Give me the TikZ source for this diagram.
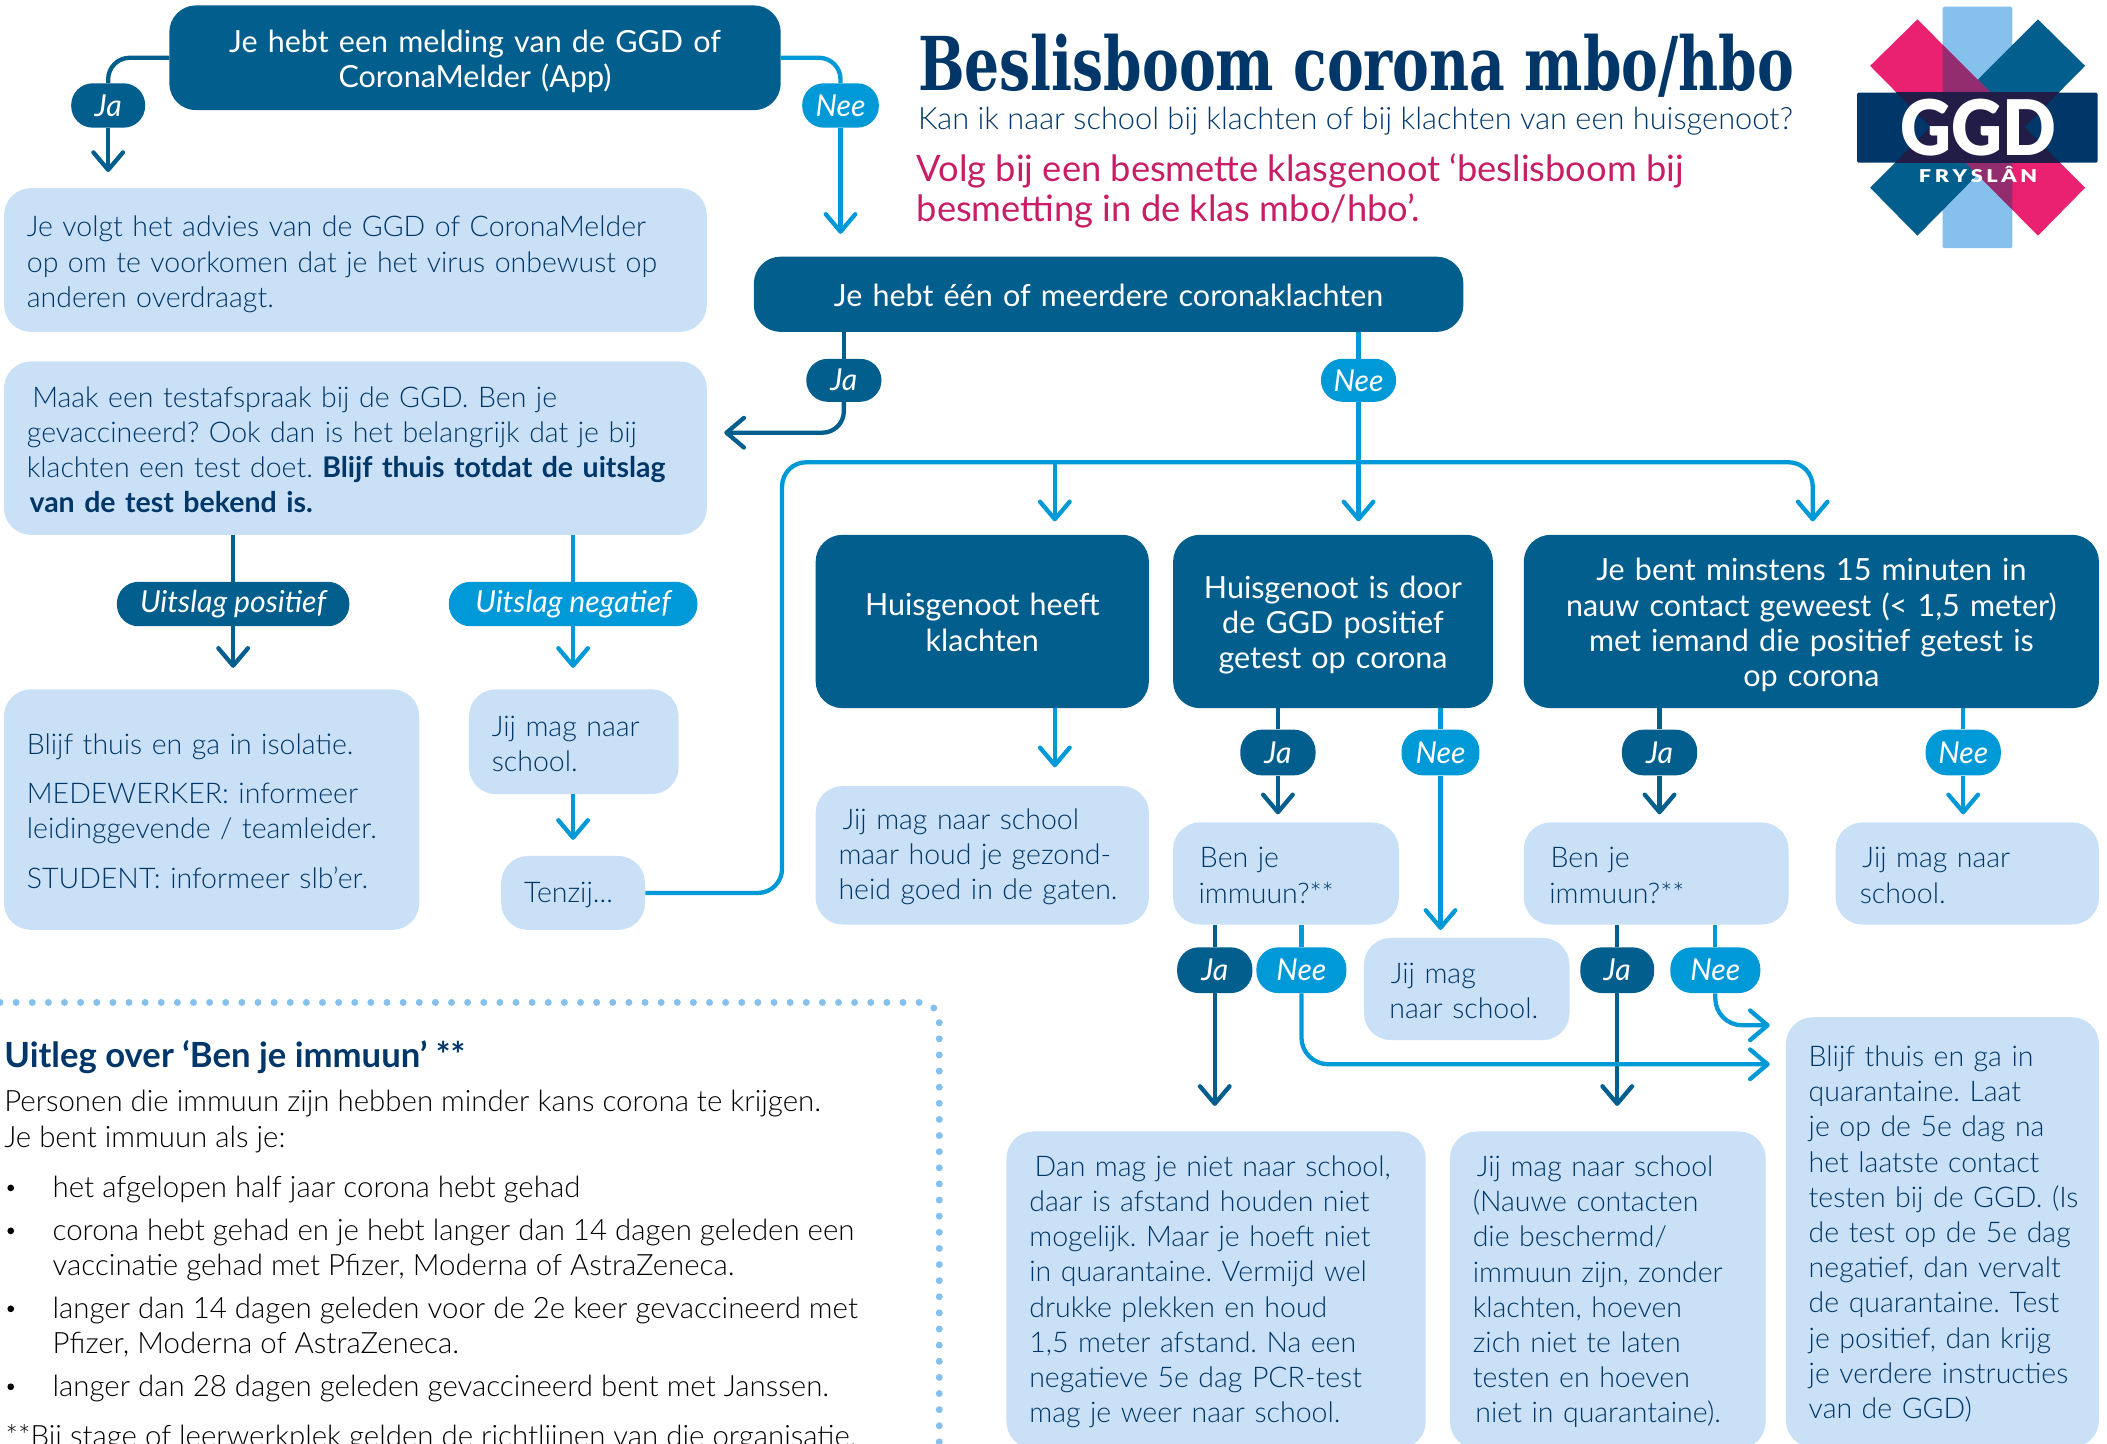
\documentclass[tikz,border=0pt]{standalone}
\usepackage{fontspec}
\usetikzlibrary{arrows.meta,calc}
\setmainfont{Lato Light}[BoldFont={Lato Bold},ItalicFont={Lato Italic}]
\newfontfamily\reg{Lato}
\newfontfamily\slab{DejaVu Serif Bold}
\newfontfamily\logof{Lato Black}
\definecolor{dk}{HTML}{025E8C}
\definecolor{br}{HTML}{0099D8}
\definecolor{lt}{HTML}{C9E0F6}
\definecolor{navy}{HTML}{003768}
\definecolor{pink}{HTML}{EA2170}
\definecolor{rose}{HTML}{C81E66}
\definecolor{sky}{HTML}{85C1EC}
\definecolor{plum}{HTML}{932D70}
\definecolor{night}{HTML}{211D47}
\frenchspacing
\hyphenpenalty=10000
\tikzset{
  x=1pt,y=-1pt,
  lbox/.style={fill=lt,text=navy,rounded corners=20pt,inner ysep=0pt,inner xsep=17pt,align=left,font=\fontsize{21.2}{26.2}\selectfont},
  dbox/.style={fill=dk,text=white,rounded corners=20pt,inner ysep=0pt,inner xsep=12pt,align=center,font=\reg\fontsize{22.7}{26.2}\selectfont},
  pilld/.style={fill=dk,text=white,rounded corners=16pt,inner sep=0pt,font=\itshape\fontsize{22.5}{24}\selectfont},
  pillb/.style={fill=br,text=white,rounded corners=16pt,inner sep=0pt,font=\itshape\fontsize{22.5}{24}\selectfont},
  cd/.style={draw=dk,line width=3.2pt},
  cb/.style={draw=br,line width=3.2pt},
  tip/.style={-{Straight Barb[length=13pt,width=22pt,round]}},
  expl/.style={anchor=west,inner sep=0pt,text=black,font=\fontsize{21.9}{26}\selectfont},
  head/.style={anchor=west,inner sep=0pt,text=navy,font=\bfseries\fontsize{25.8}{26}\selectfont},
  bul/.style={circle,fill=black,inner sep=0pt,minimum size=5pt},
}
\newcommand{\bx}[7]{% style,name,x0,y0,x1,y1,text
  \pgfmathsetmacro{\cxx}{(#3+#5)/2}\pgfmathsetmacro{\cyy}{(#4+#6)/2}
  \pgfmathsetmacro{\ww}{#5-#3}\pgfmathsetmacro{\hh}{#6-#4}
  \pgfmathsetmacro{\tw}{#5-#3-34}
  \node[#1,minimum width=\ww pt,minimum height=\hh pt,text width=\tw pt] (#2) at (\cxx,\cyy) {\rule{0pt}{\toprl}#7};}
\newcommand{\pl}[7]{% style,name,x0,y0,x1,y1,text
  \pgfmathsetmacro{\cxx}{(#3+#5)/2}\pgfmathsetmacro{\cyy}{(#4+#6)/2}
  \pgfmathsetmacro{\ww}{#5-#3}\pgfmathsetmacro{\hh}{#6-#4}
  \node[#1,minimum width=\ww pt,minimum height=\hh pt] (#2) at (\cxx,\cyy) {#7};}
\begin{document}
\begin{tikzpicture}
\useasboundingbox (0,0) rectangle (1568,1074);
\clip (0,0) rectangle (1568,1074);

% title
\node[anchor=west,inner sep=0pt,text=navy] (title) at (683,49) {\resizebox{652pt}{42pt}{\slab Beslisboom corona mbo/hbo}};
\node[anchor=west,inner sep=0pt,text=navy,font=\fontsize{22.9}{26}\selectfont] (sub) at (683,90) {Kan ik naar school bij klachten of bij klachten van een huisgenoot?};
\node[anchor=north west,inner sep=0pt,text=rose,align=left,font=\reg\fontsize{27}{30}\selectfont] (volg) at (682,114) {Volg bij een besmette klasgenoot ‘beslisboom bij\\besmetting in de klas mbo/hbo’.};

% logo
\path[fill=sky,rounded corners=1pt] (1445.7,5) rectangle (1497.5,184.6);
\def\pinkband{(1426.9,14.4) -- (1391.7,49) -- (1516.6,175.4) -- (1551.7,139.7) -- cycle}
\def\tealband{(1516.6,14.4) -- (1551.7,49) -- (1426.9,175.4) -- (1391.7,139.7) -- cycle}
\fill[dk] \tealband;
\fill[pink] \pinkband;
\begin{scope}
  \clip (1445.7,5) rectangle (1497.5,184.6);
  \fill[plum] \pinkband;
\end{scope}
\fill[navy,rounded corners=1pt] (1382,69) rectangle (1561,121);
\begin{scope}
  \clip (1382,69) rectangle (1561,121);
  \fill[night] \pinkband;
  \fill[night] \tealband;
\end{scope}
\node[inner sep=0pt,text=white] (ggd) at (1472.5,95) {\resizebox{116pt}{42pt}{\logof GGD}};
\node[inner sep=0pt,text=white] (frys) at (1472,130) {\resizebox{88pt}{12pt}{\logof F\,R\,Y\,S\,L\,Â\,N}};

% dotted frame
\coordinate (fa) at (0,746);
\coordinate (fb) at (699,746);
\coordinate (fc) at (699,1080);
\draw[sky,line width=5.2pt,line cap=round,dash pattern=on 0pt off 12pt,rounded corners=14pt] (fa) -- (fb) -- (fc);

% dark boxes
\def\toprl{22pt}
\bx{dbox}{top}{126}{4}{581}{82}{Je hebt een melding van de GGD of\\CoronaMelder (App)}
\bx{dbox}{hp}{873}{398}{1111}{527}{Huisgenoot is door\\de GGD positief\\getest op corona}
\bx{dbox}{nc}{1134}{398}{1562}{527}{Je bent minstens 15 minuten in\\nauw contact geweest (< 1,5 meter)\\met iemand die positief getest is\\op corona}
\bx{lbox}{adv}{3}{140}{526}{247}{Je volgt het advies van de GGD of CoronaMelder\\op om te voorkomen dat je het virus onbewust op\\anderen overdraagt.}
\def\toprl{18pt}
\bx{dbox}{main}{561}{191}{1089}{247}{Je hebt één of meerdere coronaklachten}
\bx{dbox}{hg}{607}{398}{855}{527}{Huisgenoot heeft\\klachten}

% light boxes
\bx{lbox}{test}{3}{269}{526}{398}{\hspace*{4pt}Maak een testafspraak bij de GGD. Ben je\\gevaccineerd? Ook dan is het belangrijk dat je bij\\klachten een test doet. \textbf{Blijf thuis totdat de uitslag}\\\hspace*{2pt}\textbf{van de test bekend is.}}
\bx{lbox}{iso}{3}{513}{312}{692}{Blijf thuis en ga in isolatie.\\[10pt]MEDEWERKER: informeer\\leidinggevende / teamleider.\\[11pt]STUDENT: informeer slb’er.}
\bx{lbox}{mag1}{349}{513}{505}{591}{Jij mag naar\\school.}
\bx{lbox}{ten}{373}{637}{480}{692}{Tenzij...}
\bx{lbox}{mag2}{607}{585}{855}{688}{\hspace*{3pt}Jij mag naar school\\maar houd je gezond-\\heid goed in de gaten.}
\bx{lbox}{imm1}{873}{612}{1041}{688}{\hspace*{3pt}Ben je\\\hspace*{2pt}immuun?**}
\bx{lbox}{mag3}{1015}{698}{1168}{774}{\hspace*{3pt}Jij mag\\\hspace*{2pt}naar school.}
\bx{lbox}{imm2}{1134}{612}{1331}{688}{\hspace*{3pt}Ben je\\\hspace*{2pt}immuun?**}
\bx{lbox}{mag4}{1366}{612}{1562}{688}{\hspace*{3pt}Jij mag naar\\\hspace*{1pt}school.}
\bx{lbox}{dan}{749}{842}{1061}{1078}{\hspace*{4pt}Dan mag je niet naar school,\\daar is afstand houden niet\\mogelijk. Maar je hoeft niet\\in quarantaine. Vermijd wel\\drukke plekken en houd\\1,5 meter afstand. Na een\\negatieve 5e dag PCR-test\\mag je weer naar school.}
\bx{lbox}{jij}{1079}{842}{1314}{1078}{\hspace*{3pt}Jij mag naar school\\(Nauwe contacten\\die beschermd/\\immuun zijn, zonder\\klachten, hoeven\\zich niet te laten\\testen en hoeven\\\hspace*{2pt}niet in quarantaine).}
\bx{lbox}{qua}{1329}{757}{1562}{1077}{Blijf thuis en ga in\\quarantaine. Laat\\je op de 5e dag na\\het laatste contact\\\mbox{testen bij de GGD. (Is}\\\mbox{de test op de 5e dag}\\negatief, dan vervalt\\de quarantaine. Test\\je positief, dan krijg\\\mbox{je verdere instructies}\\van de GGD)}

% pills
\pl{pilld}{ja1}{53}{62}{108}{95}{Ja}
\pl{pillb}{nee1}{597}{62}{654}{95}{Nee}
\pl{pilld}{ja2}{600}{267}{656}{299}{Ja}
\pl{pillb}{nee2}{983}{267}{1039}{299}{Nee}
\pl{pilld}{pos}{87}{433}{260}{466}{Uitslag positief}
\pl{pillb}{neg}{334}{433}{519}{466}{Uitslag negatief}
\pl{pilld}{ja3}{923}{543}{979}{577}{Ja}
\pl{pillb}{nee3}{1043}{543}{1101}{577}{Nee}
\pl{pilld}{ja4}{1207}{543}{1263}{577}{Ja}
\pl{pillb}{nee4}{1433}{543}{1489}{577}{Nee}
\pl{pilld}{ja5}{876}{705}{932}{739}{Ja}
\pl{pillb}{nee5}{935}{705}{1002}{739}{Nee}
\pl{pilld}{ja6}{1176}{705}{1231}{739}{Ja}
\pl{pillb}{nee6}{1243}{705}{1310}{739}{Nee}

% free connector ends
\coordinate (c1) at (126,43);
\coordinate (c2) at (581,43);
\coordinate (t1) at (81,128);
\coordinate (t2) at (625.5,174);
\coordinate (t3) at (539,322);
\coordinate (t4) at (1011,388);
\coordinate (t5) at (785,388);
\coordinate (t6) at (1349,388);
\coordinate (r1) at (582,344);
\coordinate (tp) at (173,497);
\coordinate (tn) at (426,497);
\coordinate (t7) at (426.5,625);
\coordinate (t8) at (785,571);
\coordinate (t9) at (950,606);
\coordinate (t10) at (1072,692);
\coordinate (t11) at (1234,606);
\coordinate (t12) at (1461,606);
\coordinate (t13) at (903.5,823);
\coordinate (t14) at (1203.5,823);
\coordinate (t15) at (1317,792);
\coordinate (t16) at (1317,763);

% connectors, dark
\draw[cd,rounded corners=16pt] (c1) -| (ja1.north);
\draw[cd,tip] (ja1.south) -- (ja1.south |- t1);
\draw[cd] (main.south -| ja2.north) -- (ja2.north);
\draw[cd,tip,rounded corners=16pt] (ja2.south) |- (t3);
\draw[cd] (test.south -| pos.north) -- (pos.north);
\draw[cd,tip] (pos.south) -- (pos.south |- tp);
\draw[cd] (hp.south -| ja3.north) -- (ja3.north);
\draw[cd,tip] (ja3.south) -- (ja3.south |- t9);
\draw[cd] (nc.south -| ja4.north) -- (ja4.north);
\draw[cd,tip] (ja4.south) -- (ja4.south |- t11);
\draw[cd] (imm1.south -| ja5.north) -- (ja5.north);
\draw[cd,tip] (ja5.south) -- (ja5.south |- t13);
\draw[cd] (imm2.south -| ja6.north) -- (ja6.north);
\draw[cd,tip] (ja6.south) -- (ja6.south |- t14);
% connectors, bright
\draw[cb,rounded corners=16pt] (c2) -| (nee1.north);
\draw[cb,tip] (nee1.south) -- (nee1.south |- t2);
\draw[cb] (main.south -| nee2.north) -- (nee2.north);
\draw[cb,tip] (nee2.south) -- (nee2.south |- t4);
\draw[cb] (test.south -| neg.north) -- (neg.north);
\draw[cb,tip] (neg.south) -- (neg.south |- tn);
\draw[cb,tip] (mag1.south -| t7) -- (t7);
\draw[cb,tip,rounded corners=18pt] (ten.east) -| (r1) -| (t6);
\draw[cb,tip] (t5 |- r1) -- (t5);
\draw[cb,tip] (hg.south -| t8) -- (t8);
\draw[cb] (hp.south -| nee3.north) -- (nee3.north);
\draw[cb,tip] (nee3.south) -- (nee3.south |- t10);
\draw[cb] (nc.south -| nee4.north) -- (nee4.north);
\draw[cb,tip] (nee4.south) -- (nee4.south |- t12);
\draw[cb] (imm1.south -| nee5.north) -- (nee5.north);
\draw[cb,tip,rounded corners=20pt] (nee5.south) |- (t15);
\draw[cb] (imm2.south -| nee6.north) -- (nee6.north);
\draw[cb,tip,rounded corners=20pt] (nee6.south) |- (t16);

% explanation
\node[head] (h) at (3,787) {Uitleg over ‘Ben je immuun’ **};
\node[expl] (e1) at (3,821) {Personen die immuun zijn hebben minder kans corona te krijgen.};
\node[expl] (e2) at (3,848) {Je bent immuun als je:};
\node[bul] (b1) at (8,884) {};
\node[expl] (l1) at (39,885) {het afgelopen half jaar corona hebt gehad};
\node[bul] (b2) at (8,916) {};
\node[expl] (l2) at (39,917) {corona hebt gehad en je hebt langer dan 14 dagen geleden een};
\node[expl] (l2b) at (39,943) {vaccinatie gehad met Pfizer, Moderna of AstraZeneca.};
\node[bul] (b3) at (8,974) {};
\node[expl] (l3) at (39,975) {langer dan 14 dagen geleden voor de 2e keer gevaccineerd met};
\node[expl] (l3b) at (39,1001) {Pfizer, Moderna of AstraZeneca.};
\node[bul] (b4) at (8,1032) {};
\node[expl] (l4) at (39,1033) {langer dan 28 dagen geleden gevaccineerd bent met Janssen.};
\node[expl] (l5) at (4,1070) {**Bij stage of leerwerkplek gelden de richtlijnen van die organisatie.};
\end{tikzpicture}
\end{document}
